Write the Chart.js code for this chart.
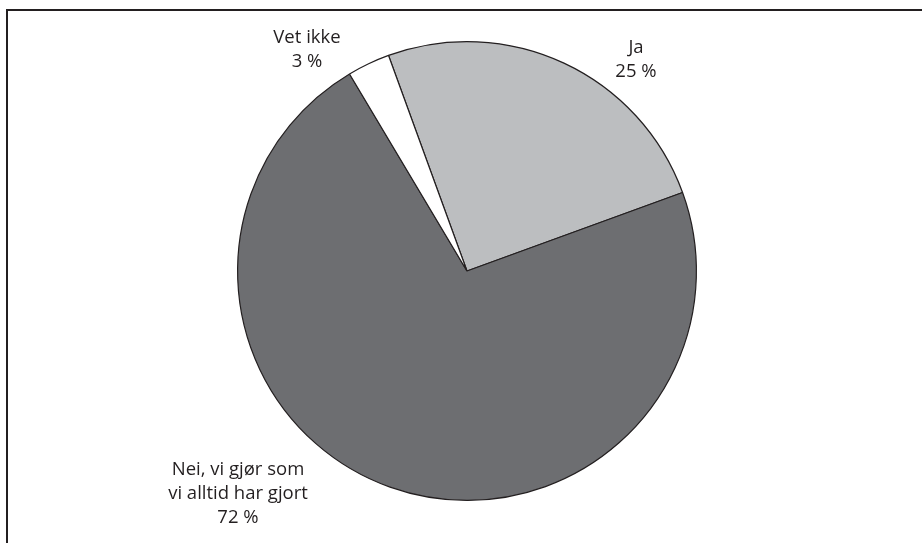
<!DOCTYPE html>
<html>
<head>
<meta charset="utf-8">
<script src="https://cdn.jsdelivr.net/npm/chart.js@4"></script>
<style>
  html, body { margin: 0; padding: 0; background: #fff; }
  #wrap { position: relative; width: 922px; height: 543px; }
</style>
</head>
<body>
<div id="wrap"><canvas id="pieChart" width="922" height="543"></canvas></div>
<script>
const labels = ['Ja', 'Nei, vi gjør som vi alltid har gjort', 'Vet ikke'];
const values = [25, 72, 3];
const sliceColors = ['#bcbec0', '#6d6e71', '#ffffff'];
// label lines shown next to the pie, one entry per slice
const labelLines = [['Ja', '25 %'], ['Nei, vi gjør som', 'vi alltid har gjort', '72 %'], ['Vet ikke', '3 %']];
const labelPos = [[636, 48], [238, 470], [307, 38]];

// ramme rundt figuren
const framePlugin = {
    id: 'frame',
    beforeDraw(chart) {
        const c = chart.ctx;
        c.save();
        c.strokeStyle = '#231f20';
        c.lineWidth = 2;
        c.beginPath();
        c.moveTo(7, 543);
        c.lineTo(7, 10);
        c.lineTo(922, 10);
        c.stroke();
        c.restore();
    }
};

const outsideLabels = {
    id: 'outsideLabels',
    afterDraw(chart) {
        const c = chart.ctx;
        c.save();
        c.fillStyle = '#231f20';
        c.font = '18.5px "Open Sans"';
        c.textAlign = 'center';
        c.textBaseline = 'middle';
        labelLines.forEach((lines, i) => {
            const [x, y] = labelPos[i];
            lines.forEach((t, j) => c.fillText(t, x, y + j * 24));
        });
        c.restore();
    }
};

new Chart(document.getElementById('pieChart'), {
    type: 'pie',
    data: {
        labels: labels,
        datasets: [{
            data: values,
            backgroundColor: sliceColors,
            borderColor: '#231f20',
            borderWidth: 1.2
        }]
    },
    options: {
        responsive: false,
        animation: false,
        rotation: -20,
        layout: { padding: { top: 41, bottom: 42, left: 12, right: 0 } },
        plugins: { legend: { display: false }, tooltip: { enabled: false } }
    },
    plugins: [framePlugin, outsideLabels]
});
</script>
</body>
</html>
